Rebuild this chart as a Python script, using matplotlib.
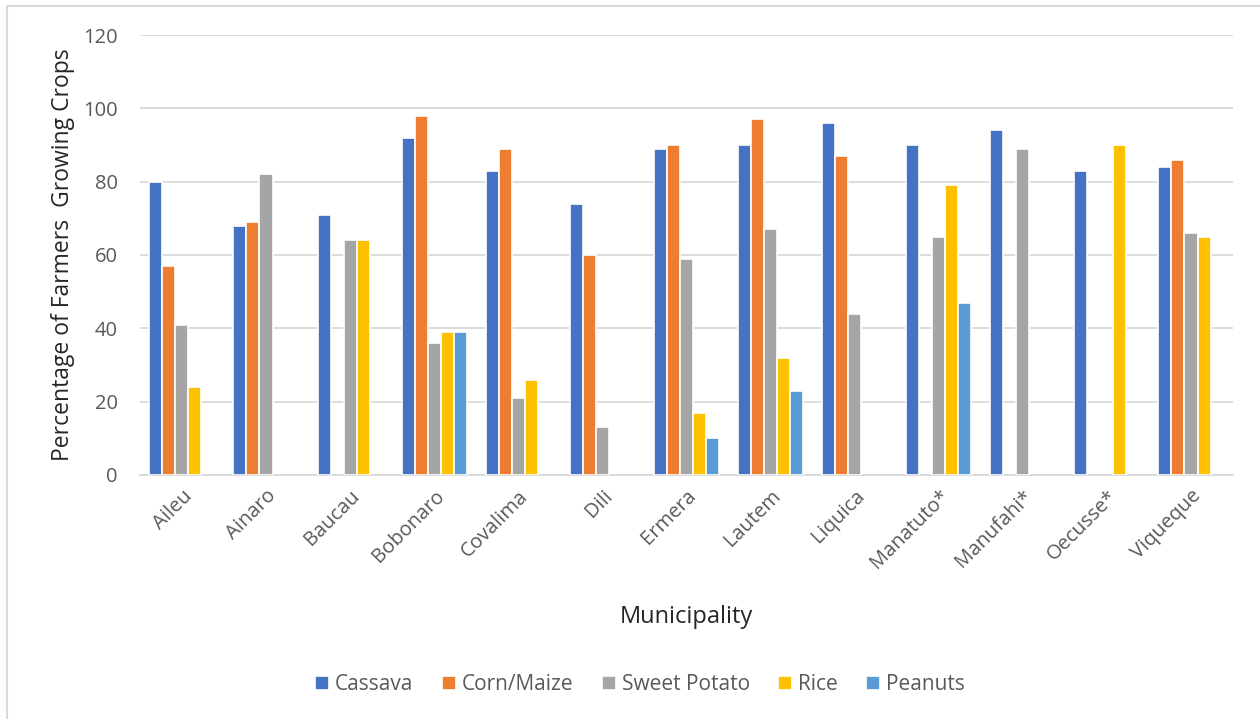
import matplotlib.pyplot as plt
import numpy as np

plt.rcParams['font.family'] = ['Open Sans', 'DejaVu Sans']

# Data
municipalities = ['Aileu', 'Ainaro', 'Baucau', 'Bobonaro', 'Covalima', 'Dili', 'Ermera',
                  'Lautem', 'Liquica', 'Manatuto*', 'Manufahi*', 'Oecusse*', 'Viqueque']
cassava = [80, 68, 71, 92, 83, 74, 89, 90, 96, 90, 94, 83, 84]
corn_maize = [57, 69, 0, 98, 89, 60, 90, 97, 87, 0, 0, 0, 86]
sweet_potato = [41, 82, 64, 36, 21, 13, 59, 67, 44, 65, 89, 0, 66]
rice = [24, 0, 64, 39, 26, 0, 17, 32, 0, 79, 0, 90, 65]
peanuts = [0, 0, 0, 39, 0, 0, 10, 23, 0, 47, 0, 0, 0]

series = [('Cassava', cassava, '#4472c4'),
          ('Corn/Maize', corn_maize, '#ed7d31'),
          ('Sweet Potato', sweet_potato, '#a5a5a5'),
          ('Rice', rice, '#ffc000'),
          ('Peanuts', peanuts, '#5b9bd5')]

fig = plt.figure(figsize=(12.6, 7.19), dpi=100)
ax = fig.add_axes([0.111, 0.3394, 0.8676, 0.6119])

# light chart border (partly cut off, as in the source)
fig.patches.append(plt.Rectangle((7 / 1260, -0.1), 1.2, 1 - 6 / 719 + 0.1,
                                 transform=fig.transFigure, fill=False,
                                 edgecolor='#d9d9d9', linewidth=1.5))

x = np.arange(len(municipalities))
w = 0.155
for i, (name, vals, col) in enumerate(series):
    # zero values are not drawn (avoids white slivers on the baseline)
    h = np.where(np.array(vals) > 0, vals, np.nan)
    ax.bar(x + (i - 2) * w, h, width=w, color=col, edgecolor='white',
           linewidth=1.2, label=name, zorder=3)

ax.set_xlim(-0.5, len(municipalities) - 0.5)
ax.set_ylim(0, 120)
ax.set_yticks(range(0, 121, 20))
ax.grid(axis='y', color='#d9d9d9', linewidth=1.3, zorder=0)
for s in ['top', 'right', 'left']:
    ax.spines[s].set_visible(False)
ax.spines['bottom'].set_color('#d9d9d9')
ax.spines['bottom'].set_linewidth(1.3)
ax.tick_params(axis='both', length=0, labelsize=14.5, labelcolor='#595959')
ax.tick_params(axis='y', pad=16)

ax.set_xticks(x)
ax.set_xticklabels(municipalities, rotation=45, ha='right', va='top',
                   rotation_mode='anchor')
ax.tick_params(axis='x', pad=8)

ax.set_ylabel('Percentage of Farmers  Growing Crops', fontsize=16.5, color='#262626', labelpad=6)
ax.set_xlabel('Municipality', fontsize=17, color='#262626', labelpad=23)

leg = fig.legend(loc='center', bbox_to_anchor=(0.508, 1 - 685 / 719), ncol=5,
                 frameon=False, fontsize=15, handlelength=0.67, handleheight=0.67,
                 columnspacing=1.35, handletextpad=0.3)
for t in leg.get_texts():
    t.set_color('#595959')

fig.savefig('out.png', dpi=100)
